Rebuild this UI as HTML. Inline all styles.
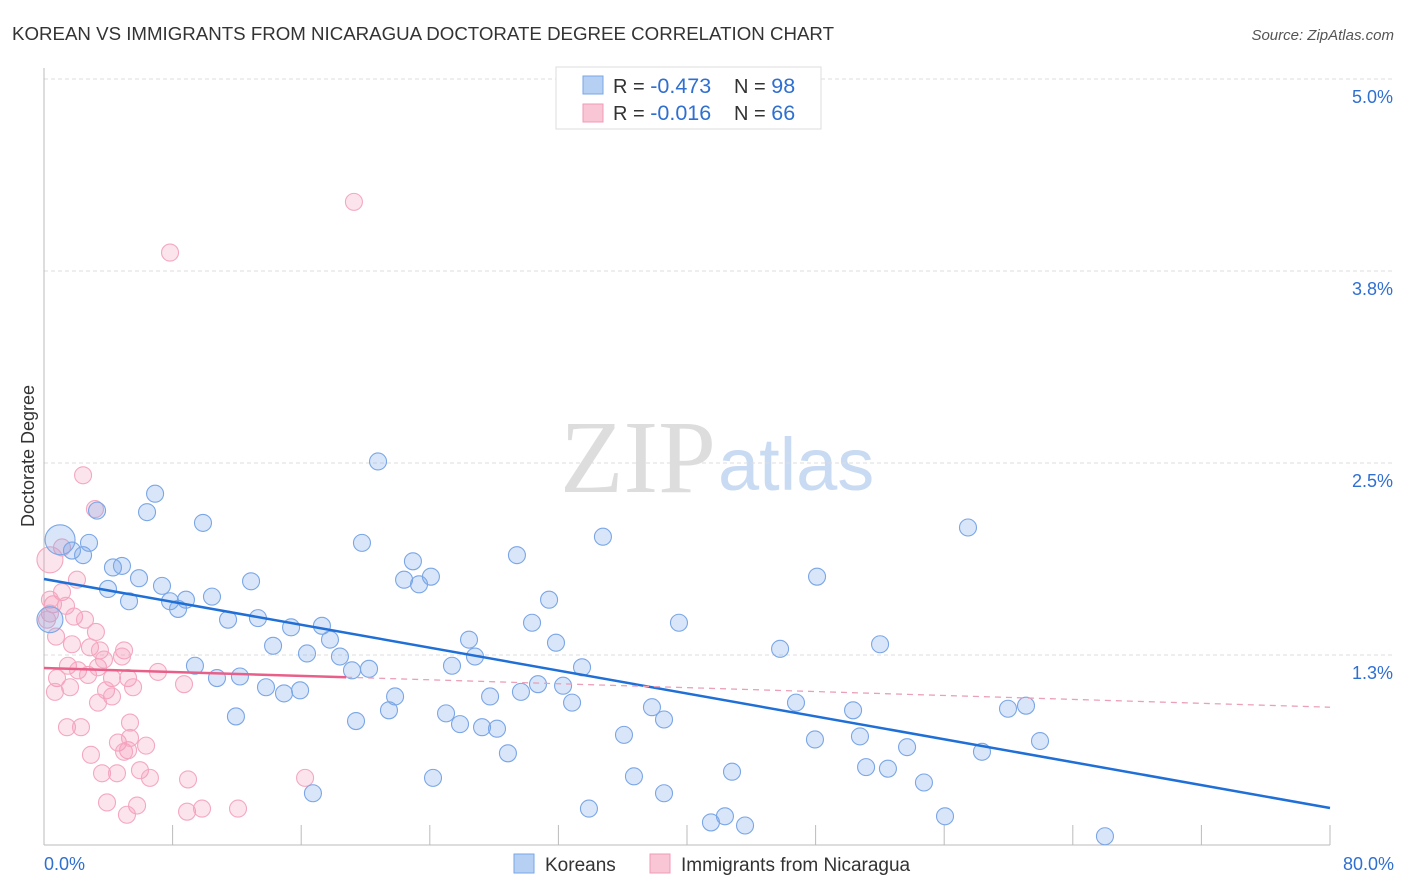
<!DOCTYPE html>
<html><head><meta charset="utf-8"><style>
body{margin:0;background:#fff;font-family:"Liberation Sans",sans-serif;}
svg{display:block}
</style></head><body>
<svg id="chart" width="1406" height="892" xmlns="http://www.w3.org/2000/svg">
<text x="12" y="40" font-size="18.7" fill="#333">KOREAN VS IMMIGRANTS FROM NICARAGUA DOCTORATE DEGREE CORRELATION CHART</text>
<text x="1394" y="40" font-size="15" fill="#555" font-style="italic" text-anchor="end">Source: ZipAtlas.com</text>
<text x="716" y="492" font-size="104" fill="#ddd" text-anchor="end" font-family="Liberation Serif,serif">ZIP</text>
<text x="718" y="490" font-size="74" fill="#c9dbf2">atlas</text>
<g id="grid"></g><g id="axes"></g><g id="marks"></g>
<text transform="translate(34,456) rotate(-90)" font-size="18" fill="#333" text-anchor="middle">Doctorate Degree</text>
<g>
<rect x="556" y="67" width="265" height="62" fill="#fff" stroke="#ddd"/>
<rect x="583" y="76" width="20" height="18" fill="#b6d0f4" stroke="#7aa6e6"/>
<rect x="583" y="104" width="20" height="18" fill="#f9c6d6" stroke="#f09ab4"/>
<text x="613" y="93" font-size="20" fill="#333">R = <tspan fill="#2f6fd0" font-size="21.5">-0.473</tspan></text>
<text x="734" y="93" font-size="20" fill="#333">N = <tspan fill="#2f6fd0" font-size="21.5">98</tspan></text>
<text x="613" y="120" font-size="20" fill="#333">R = <tspan fill="#2f6fd0" font-size="21.5">-0.016</tspan></text>
<text x="734" y="120" font-size="20" fill="#333">N = <tspan fill="#2f6fd0" font-size="21.5">66</tspan></text>
</g>
<g>
<rect x="514" y="854" width="20" height="19" fill="#b6d0f4" stroke="#7aa6e6"/>
<text x="545" y="871" font-size="19" fill="#333">Koreans</text>
<rect x="650" y="854" width="20" height="19" fill="#f9c6d6" stroke="#f09ab4"/>
<text x="681" y="871" font-size="19" fill="#333">Immigrants from Nicaragua</text>
</g>
</svg>
<script>
const xTicks=[0,8,16,24,32,40,48,56,64,72,80];
const yTicks=[1.25,2.5,3.75,5.0];
const yTickLabels=["1.3%","2.5%","3.8%","5.0%"];
const xLabels=["0.0%","80.0%"];
const blueX=[1.0,1.74,2.43,2.8,3.3,6.91,6.41,9.89,4.29,4.85,3.98,5.91,5.29,7.34,7.84,8.34,8.83,10.45,12.88,11.45,13.31,15.37,17.29,17.79,14.25,16.36,18.41,19.16,20.22,9.39,10.76,12.19,13.81,14.93,15.93,11.94,19.41,20.78,19.78,22.95,22.4,23.33,24.07,29.42,34.77,31.42,30.36,26.44,31.85,26.81,25.38,33.47,30.73,32.29,29.67,27.75,21.84,21.46,25.01,25.88,27.25,28.18,32.85,37.82,38.57,36.08,28.86,24.2,36.7,38.57,16.73,33.9,41.49,42.36,43.61,42.8,39.5,48.09,45.79,52.01,46.78,50.33,47.96,50.76,53.69,51.14,52.5,54.74,56.05,66.0,57.48,59.97,61.09,58.35,61.96,0.37];
const blueY=[2.0,1.93,1.9,1.98,2.19,2.3,2.18,2.11,1.82,1.83,1.68,1.75,1.6,1.7,1.6,1.55,1.61,1.63,1.73,1.48,1.49,1.43,1.44,1.35,1.31,1.26,1.24,1.15,1.16,1.18,1.1,1.11,1.04,1.0,1.02,0.85,0.82,2.51,1.98,1.86,1.74,1.71,1.76,1.9,2.02,1.61,1.46,1.35,1.33,1.24,1.18,1.17,1.06,1.05,1.01,0.98,0.98,0.89,0.87,0.8,0.78,0.77,0.94,0.91,0.83,0.73,0.61,0.45,0.46,0.35,0.35,0.25,0.16,0.2,0.14,0.49,1.46,1.76,1.29,1.32,0.94,0.89,0.7,0.72,0.65,0.52,0.51,0.42,0.2,0.07,2.08,0.9,0.92,0.62,0.69,1.48];
const blueSize=[15,1,1,1,1,1,1,1,1,1,1,1,1,1,1,1,1,1,1,1,1,1,1,1,1,1,1,1,1,1,1,1,1,1,1,1,1,1,1,1,1,1,1,1,1,1,1,1,1,1,1,1,1,1,1,1,1,1,1,1,1,1,1,1,1,1,1,1,1,1,1,1,1,1,1,1,1,1,1,1,1,1,1,1,1,1,1,1,1,1,1,1,1,1,1,13];
const pinkX=[19.28,7.84,2.43,3.17,1.12,0.37,2.05,1.12,0.56,0.37,1.37,1.87,0.75,3.23,2.55,1.74,2.86,3.48,4.98,4.85,1.49,2.12,2.74,3.36,3.73,4.23,5.23,7.09,8.71,5.54,0.81,0.68,1.62,3.86,4.23,3.36,5.35,1.43,2.3,2.92,4.6,5.23,4.98,6.35,5.97,3.61,4.54,6.59,8.96,16.24,3.92,5.79,5.16,8.9,9.83,12.07,5.35,0.19,0.37];
const pinkY=[4.2,3.87,2.42,2.2,1.95,1.87,1.74,1.66,1.58,1.52,1.57,1.5,1.37,1.4,1.48,1.32,1.3,1.28,1.28,1.24,1.18,1.15,1.12,1.17,1.22,1.1,1.1,1.14,1.06,1.04,1.1,1.01,1.04,1.02,0.98,0.94,0.81,0.78,0.78,0.6,0.68,0.63,0.62,0.66,0.5,0.48,0.48,0.45,0.44,0.45,0.29,0.27,0.21,0.23,0.25,0.25,0.71,1.48,1.61];
const pinkSize=[1,1,1,1,1,13,1,1,1,1,1,1,1,1,1,1,1,1,1,1,1,1,1,1,1,1,1,1,1,1,1,1,1,1,1,1,1,1,1,1,1,1,1,1,1,1,1,1,1,1,1,1,1,1,1,1,1,1,1];
const blueTrend=[1.745,0.254];
const pinkTrend=[1.165,0.91];
const pinkSolidEnd=18.8;

const NS="http://www.w3.org/2000/svg";
const X0=44,X1=1330,Y0=847,YT=79;
const sx=v=>X0+v/80*(X1-X0);
const sy=v=>Y0-v/5*(Y0-YT);
function mk(tag,attrs,parent){const e=document.createElementNS(NS,tag);for(const k in attrs)e.setAttribute(k,attrs[k]);parent.appendChild(e);return e;}
const grid=document.getElementById('grid'),axes=document.getElementById('axes'),marks=document.getElementById('marks');
yTicks.forEach((t,i)=>{
 const l=mk('line',{x1:X0,x2:1394,y1:sy(t),y2:sy(t),stroke:'#ddd','stroke-dasharray':'4,3'},grid);
 
 
 const tx=mk('text',{x:1393,y:sy(t)+24,'font-size':18,fill:'#2f6fd0','text-anchor':'end'},axes);
 tx.textContent=yTickLabels[i];
 
 
});
const ya=mk('line',{x1:X0,x2:X0,y1:68,y2:Y0-2,stroke:'#bbb'},axes);


const xa=mk('line',{x1:X0,x2:X1,y1:Y0-2,y2:Y0-2,stroke:'#bbb'},axes);


xTicks.forEach(t=>{
 const tk=mk('line',{x1:sx(t),x2:sx(t),y1:Y0-2,y2:Y0-22,stroke:'#bbb'},axes);
 
 
});
const xl0=mk('text',{x:44,y:870,'font-size':18,fill:'#2f6fd0'},axes);xl0.textContent=xLabels[0];


const xl1=mk('text',{x:1394,y:870,'font-size':18,fill:'#2f6fd0','text-anchor':'end'},axes);xl1.textContent=xLabels[1];


pinkX.forEach((v,i)=>{
 const c=mk('circle',{cx:sx(v),cy:sy(pinkY[i]),r:pinkSize[i]>1?pinkSize[i]:8.5,fill:'rgba(244,150,180,0.26)',stroke:'#f4a8c0','stroke-width':1.1},marks);
 
 
});
blueX.forEach((v,i)=>{
 const c=mk('circle',{cx:sx(v),cy:sy(blueY[i]),r:blueSize[i]>1?blueSize[i]:8.5,fill:'rgba(120,165,235,0.28)',stroke:'#7aa6e6','stroke-width':1.1},marks);
 
 
});
const bt=mk('line',{x1:sx(0),y1:sy(blueTrend[0]),x2:sx(80),y2:sy(blueTrend[1]),stroke:'#1f6fd6','stroke-width':2.5},marks);


const pAt=x=>pinkTrend[0]+(pinkTrend[1]-pinkTrend[0])*x/80;
const ps=mk('line',{x1:sx(0),y1:sy(pAt(0)),x2:sx(pinkSolidEnd),y2:sy(pAt(pinkSolidEnd)),stroke:'#e8608a','stroke-width':2.5},marks);


const pd=mk('line',{x1:sx(pinkSolidEnd),y1:sy(pAt(pinkSolidEnd)),x2:sx(80),y2:sy(pAt(80)),stroke:'#eba0b8','stroke-width':1.3,'stroke-dasharray':'6,5'},marks);


</script>
</body></html>
